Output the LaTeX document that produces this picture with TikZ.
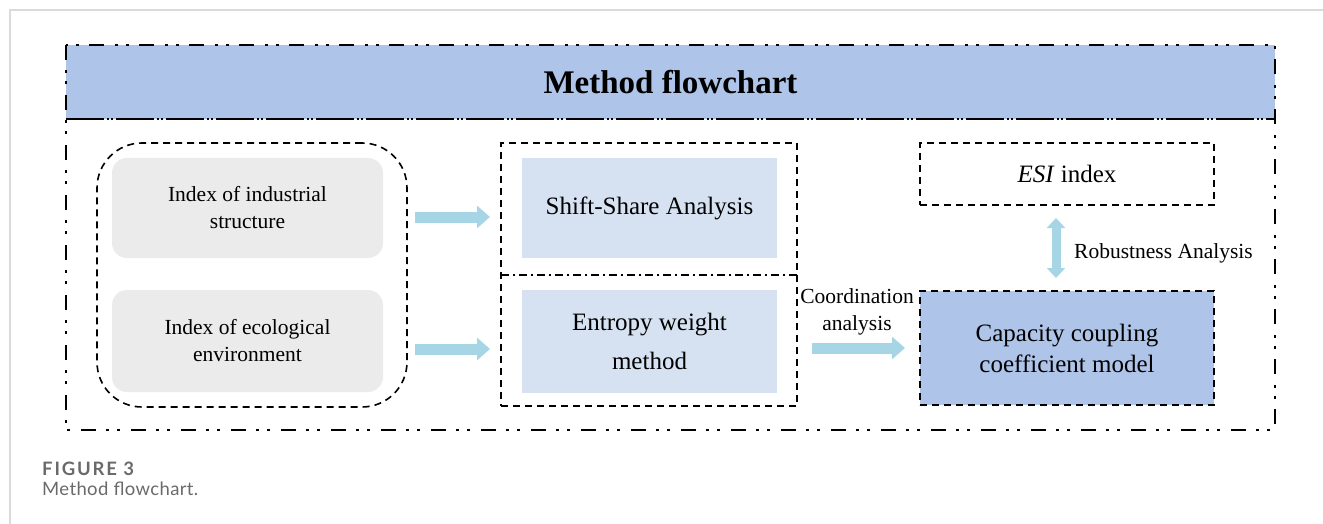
\documentclass[tikz,border=0pt]{standalone}
\usepackage{fontspec}
\setmainfont{Liberation Serif}
\newfontfamily\capfontb[LetterSpace=10]{Lato Bold}
\newfontfamily\capfontr[LetterSpace=2]{Lato}
\usetikzlibrary{arrows.meta}
\definecolor{titleblue}{HTML}{AEC4E8}
\definecolor{lightbox}{HTML}{D6E2F2}
\definecolor{graybox}{HTML}{EBEBEB}
\definecolor{arrowblue}{HTML}{A6D6E6}
\definecolor{capgray}{HTML}{6A6A6A}
\definecolor{framegray}{HTML}{DADADA}
\tikzset{
  outerline/.style={line width=2pt, dash pattern=on 15pt off 10pt on 3pt off 8pt on 3pt off 11pt},
  bandline/.style={line width=2.5pt, dash pattern=on 38pt off 3pt on 2pt off 2pt on 2pt off 3pt},
  dashbox/.style={draw, line width=1.6pt, dash pattern=on 7pt off 5pt, inner sep=0pt, outer sep=0pt},
  fillbox/.style={inner sep=0pt, outer sep=0pt, align=center},
  bigtext/.style={font=\fontsize{25}{31}\selectfont},
  midtext/.style={font=\fontsize{21.5}{27}\selectfont},
  bigarrow/.style={line width=11pt, arrowblue, -{Triangle[width=22pt,length=13pt]}},
  dblarrow/.style={line width=9pt, arrowblue, {Triangle[width=18pt,length=10pt]}-{Triangle[width=18pt,length=10pt]}},
  divider/.style={line width=1.5pt, dash pattern=on 8pt off 4pt on 2pt off 4pt},
}
\begin{document}
\begin{tikzpicture}[x=1pt,y=-1pt]
\useasboundingbox (0,0) rectangle (1323,524);
% page frame
\draw[framegray, line width=2pt] (1323,10) -- (10,10) -- (10,524);
% title band
\fill[titleblue] (66,45) rectangle (1275,119);
\node[font=\fontsize{33}{38}\selectfont\bfseries] (title) at (670.5,82) {Method flowchart};
\draw[bandline] (66,119) -- (1275,119);
\draw[outerline] (66,45) rectangle (1275,430);
% left group
\node[dashbox, rounded corners=45pt, minimum width=310pt, minimum height=264pt] (lbox) at (252,275) {};
\node[fillbox, fill=graybox, rounded corners=15pt, minimum width=271pt, minimum height=100pt, midtext] (ind) at (247.5,208) {Index of industrial\\structure};
\node[fillbox, fill=graybox, rounded corners=15pt, minimum width=271pt, minimum height=102pt, midtext] (eco) at (247.5,341) {Index of ecological\\environment};
% middle group
\node[dashbox, minimum width=296pt, minimum height=263pt] (mid) at (649,274.5) {};
\node[fillbox, fill=lightbox, minimum width=255pt, minimum height=100pt, bigtext] (ssa) at (649.5,208) {Shift-Share Analysis};
\node[fillbox, fill=lightbox, minimum width=255pt, minimum height=103pt, font=\fontsize{25}{39}\selectfont] (ewm) at (649.5,341.5) {Entropy weight\\method};
\coordinate (dL) at (501,275);
\coordinate (dR) at (797,275);
\draw[divider] (dL) -- (dR);
% right group
\node[dashbox, minimum width=294pt, minimum height=62pt, bigtext] (esi) at (1067,174) {\textit{ESI} index};
\node[dashbox, fill=titleblue, minimum width=294pt, minimum height=114pt, align=center, bigtext] (cap) at (1067,348) {Capacity coupling\\coefficient model};
% arrows
\draw[bigarrow] ([xshift=8pt,yshift=-9pt]lbox.east |- ind.center) -- ([xshift=-11pt,yshift=-9pt]mid.west |- ind.center);
\draw[bigarrow] ([xshift=8pt,yshift=-8pt]lbox.east |- eco.center) -- ([xshift=-11pt,yshift=-8pt]mid.west |- eco.center);
\draw[bigarrow] ([xshift=15pt]mid.east |- cap.center) -- ([xshift=-15pt]cap.west);
\draw[dblarrow] ([xshift=-11pt,yshift=-13pt]esi.south) -- ([xshift=-11pt,yshift=13pt]cap.north);
\node[midtext, align=center, inner sep=0pt] (coord) at (857,312) {Coordination\\analysis};
\node[midtext, anchor=west, inner sep=0pt] (rob) at (1074,253) {Robustness Analysis};
% caption
\node[anchor=base west, inner sep=0pt, capgray, font=\capfontb\fontsize{18.5}{22}\selectfont] (figlab) at (42,475) {FIGURE 3};
\node[anchor=base west, inner sep=0pt, capgray, font=\capfontr\fontsize{18.5}{22}\selectfont] (figcap) at (42,495) {Method flowchart.};
\end{tikzpicture}
\end{document}
